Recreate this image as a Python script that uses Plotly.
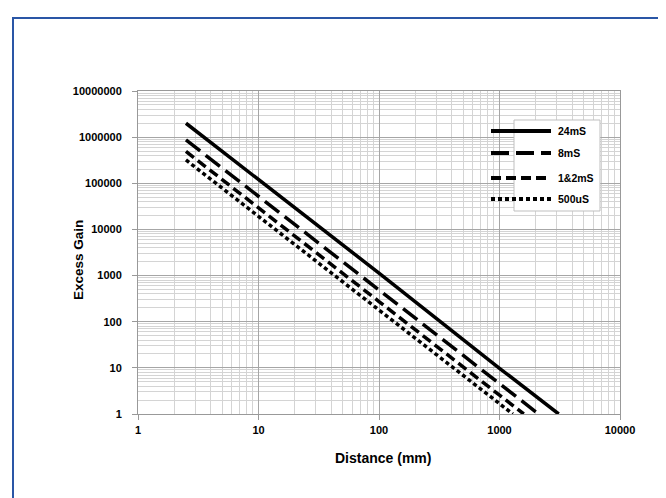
import plotly.graph_objects as go

# ---------------- data ----------------
series_names = ["24mS", "8mS", "1&2mS", "500uS"]

distance_24ms = [2.5, 10, 50, 100, 1000, 3100]
gain_24ms = [2.0e6, 1.2e5, 4700, 1130, 9.8, 1.0]

distance_8ms = [2.5, 10, 100, 1000, 2110]
gain_8ms = [8.7e5, 5.2e4, 488, 4.5, 1.0]

distance_1_2ms = [2.5, 10, 100, 1000, 1590]
gain_1_2ms = [4.9e5, 2.9e4, 274, 2.56, 1.0]

distance_500us = [2.5, 10, 100, 1000, 1290]
gain_500us = [3.2e5, 1.9e4, 179, 1.67, 1.0]

x_tick_vals = [1, 10, 100, 1000, 10000]
x_tick_text = ["1", "10", "100", "1000", "10000"]
y_tick_vals = [1, 10, 100, 1000, 10000, 100000, 1000000, 10000000]
y_tick_text = ["1", "10", "100", "1000", "10000", "100000", "1000000", "10000000"]

x_title = "Distance (mm)"
y_title = "Excess Gain"

# ---------------- styles ----------------
dashes = ["solid", "18px,7px", "10px,5px", "4px,3px"]
widths = [3.5, 3.5, 3.5, 3.5]
FONT = "Liberation Sans Narrow, Arial Narrow, Liberation Sans, Arial, sans-serif"
TFONT = "Liberation Sans, Arial, sans-serif"

xs = [distance_24ms, distance_8ms, distance_1_2ms, distance_500us]
ys = [gain_24ms, gain_8ms, gain_1_2ms, gain_500us]

fig = go.Figure()
for name, x, y, d, w in zip(series_names, xs, ys, dashes, widths):
    fig.add_trace(go.Scatter(x=x, y=y, mode="lines", name=name,
                             line=dict(color="black", width=w, dash=d),
                             showlegend=False))

minor_x = [m * 10 ** e for e in range(0, 4) for m in range(2, 10)]
minor_y = [m * 10 ** e for e in range(0, 7) for m in range(2, 10)]

axis_common = dict(
    type="log", showline=True, linecolor="#999999", linewidth=1, mirror=True,
    showgrid=True, gridcolor="#a6a6a6", gridwidth=1,
    ticks="outside", ticklen=5, tickcolor="#999999",
    tickfont=dict(family=TFONT, size=11, color="black", weight="bold"),
    zeroline=False,
)

fig.update_xaxes(range=[0, 4], tickmode="array", tickvals=x_tick_vals, ticktext=x_tick_text,
                 minor=dict(tickmode="array", tickvals=minor_x, showgrid=True,
                            gridcolor="#d4d4d4", gridwidth=1, ticks=""),
                 ticklabelstandoff=1, **axis_common)
fig.update_yaxes(range=[0, 7], tickmode="array", tickvals=y_tick_vals, ticktext=y_tick_text,
                 minor=dict(tickmode="array", tickvals=minor_y, showgrid=True,
                            gridcolor="#d4d4d4", gridwidth=1, ticks=""),
                 ticklabelstandoff=8, **axis_common)

L, R, T, B = 130, 54, 83, 92
W, H = 666, 498
pw, ph = W - L - R, H - T - B


def px(xpix):
    return (xpix - L) / pw


def py(ypix):
    return (H - B - ypix) / ph


shapes = []
# outer blue frame
shapes.append(dict(type="rect", xref="paper", yref="paper",
                   x0=px(5), x1=px(720), y0=py(560), y1=py(10),
                   line=dict(color="#2a56a6", width=2), fillcolor="rgba(0,0,0,0)", layer="below"))
# legend box
shapes.append(dict(type="rect", xref="paper", yref="paper",
                   x0=px(506), x1=px(592), y0=py(203), y1=py(112),
                   line=dict(color="#bfbfbf", width=1), fillcolor="white", layer="above"))

legend_y = [123, 145, 170, 191]
annotations = []
for name, d, w, ly in zip(series_names, dashes, widths, legend_y):
    shapes.append(dict(type="line", xref="paper", yref="paper",
                       x0=px(483), x1=px(543), y0=py(ly), y1=py(ly),
                       line=dict(color="black", width=w + 0.5, dash=d), layer="above"))
    annotations.append(dict(xref="paper", yref="paper", x=px(548), y=py(ly),
                            text=name, showarrow=False, xanchor="left", yanchor="middle",
                            font=dict(family=TFONT, size=10.5, color="black", weight="bold")))

annotations.append(dict(xref="paper", yref="paper", x=px(70), y=py(252), text=y_title,
                        textangle=-90, showarrow=False, xanchor="center", yanchor="middle",
                        font=dict(family=FONT, size=13.5, color="black", weight="bold")))
annotations.append(dict(xref="paper", yref="paper", x=px(375), y=py(450), text=x_title,
                        showarrow=False, xanchor="center", yanchor="middle",
                        font=dict(family=FONT, size=14, color="black", weight="bold")))

fig.update_layout(
    width=W, height=H,
    margin=dict(l=L, r=R, t=T, b=B, autoexpand=False),
    paper_bgcolor="white", plot_bgcolor="white",
    shapes=shapes, annotations=annotations, showlegend=False,
)

fig.write_html("out.html")
